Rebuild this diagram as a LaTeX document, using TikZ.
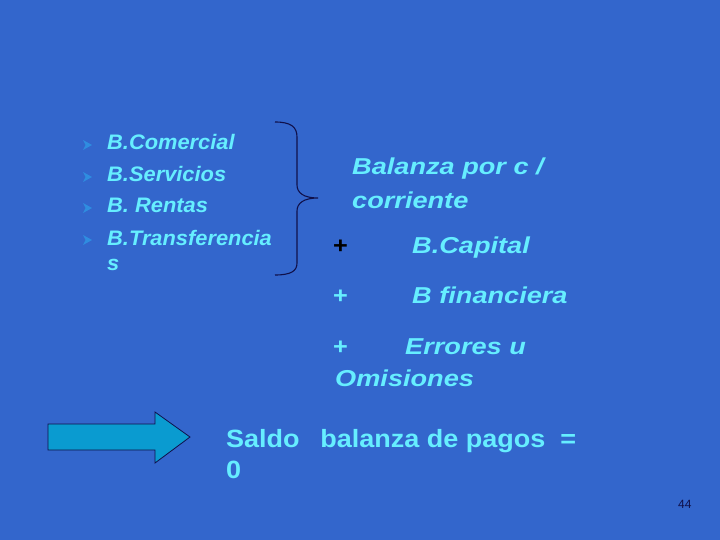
\documentclass[tikz,border=0pt]{standalone}
\usepackage{fontspec}
\setmainfont{Liberation Sans}
\definecolor{bgblue}{HTML}{3366CC}
\definecolor{txtcyan}{HTML}{66EEFF}
\definecolor{navy}{HTML}{10104A}
\definecolor{bulletblue}{HTML}{2F8DE0}
\definecolor{arrowfill}{HTML}{0A9BD0}
\tikzset{
  lefttxt/.style={anchor=base west, inner sep=0pt, text=txtcyan, font=\fontsize{21}{25}\selectfont\bfseries\itshape, xscale=1.04},
  righttxt/.style={anchor=base west, inner sep=0pt, text=txtcyan, font=\fontsize{23}{28}\selectfont\bfseries\itshape, xscale=1.18},
  plussign/.style={anchor=base west, inner sep=0pt, font=\fontsize{23}{28}\selectfont\bfseries, xscale=1.1},
  saldotxt/.style={anchor=base west, inner sep=0pt, text=txtcyan, font=\fontsize{25}{30}\selectfont\bfseries, xscale=1.08},
  pagenum/.style={anchor=base west, inner sep=0pt, text=navy, font=\fontsize{12}{14}\selectfont},
  bulletmark/.style={fill=bulletblue},
  bracket/.style={draw=navy, line width=1.1pt},
  blockarrow/.style={fill=arrowfill, draw=navy, line width=0.8pt, line join=miter}
}
\begin{document}
\begin{tikzpicture}[x=1pt,y=-1pt]
\fill[bgblue] (0,0) rectangle (720,540);
\useasboundingbox (0,0) rectangle (720,540);
% bullets
\foreach \cy in {145,177,208,240}{
  \fill[bulletmark] (83,\cy-5) -- (92,\cy) -- (83,\cy+5) -- (85.5,\cy) -- cycle;
}
% left list
\node[lefttxt] (comercial) at (107,150) {B.Comercial};
\node[lefttxt] (servicios) at (107,182) {B.Servicios};
\node[lefttxt] (rentas) at (107,213) {B. Rentas};
\node[lefttxt] (transf) at (107,245) {B.Transferencia};
\node[lefttxt] (transfs) at (107,270) {s};
% brace
\coordinate (bt) at (275,122);
\coordinate (bb) at (275,275);
\coordinate (tip) at (318,198);
\draw[bracket] (bt) .. controls (291,122) and (297,127) .. (297,137) -- (297,185)
  .. controls (297,193) and (304,198) .. (tip)
  .. controls (304,198) and (297,203) .. (297,211) -- (297,263)
  .. controls (297,271) and (291,275) .. (bb);
% right side
\node[righttxt] (bal) at (352,175) {Balanza por c /};
\node[righttxt] (corr) at (352,208) {corriente};
\node[plussign, text=black] (p1) at (333,253) {+};
\node[righttxt] (cap) at (412,253) {B.Capital};
\node[plussign, text=txtcyan] (p2) at (333,303) {+};
\node[righttxt] (fin) at (412,303) {B financiera};
\node[plussign, text=txtcyan] (p3) at (333,354) {+};
\node[righttxt] (err) at (405,354) {Errores u};
\node[righttxt] (omi) at (335,386) {Omisiones};
% arrow
\draw[blockarrow] (48,424) -- (155,424) -- (155,412) -- (190,437) -- (155,463) -- (155,450) -- (48,450) -- cycle;
% saldo
\node[saldotxt] (saldo) at (226,447) {Saldo\hspace{19pt}balanza de pagos\ \ =};
\node[saldotxt] (cero) at (226,478) {0};
% page number
\node[pagenum] (pg) at (678,508) {44};
\end{tikzpicture}
\end{document}
